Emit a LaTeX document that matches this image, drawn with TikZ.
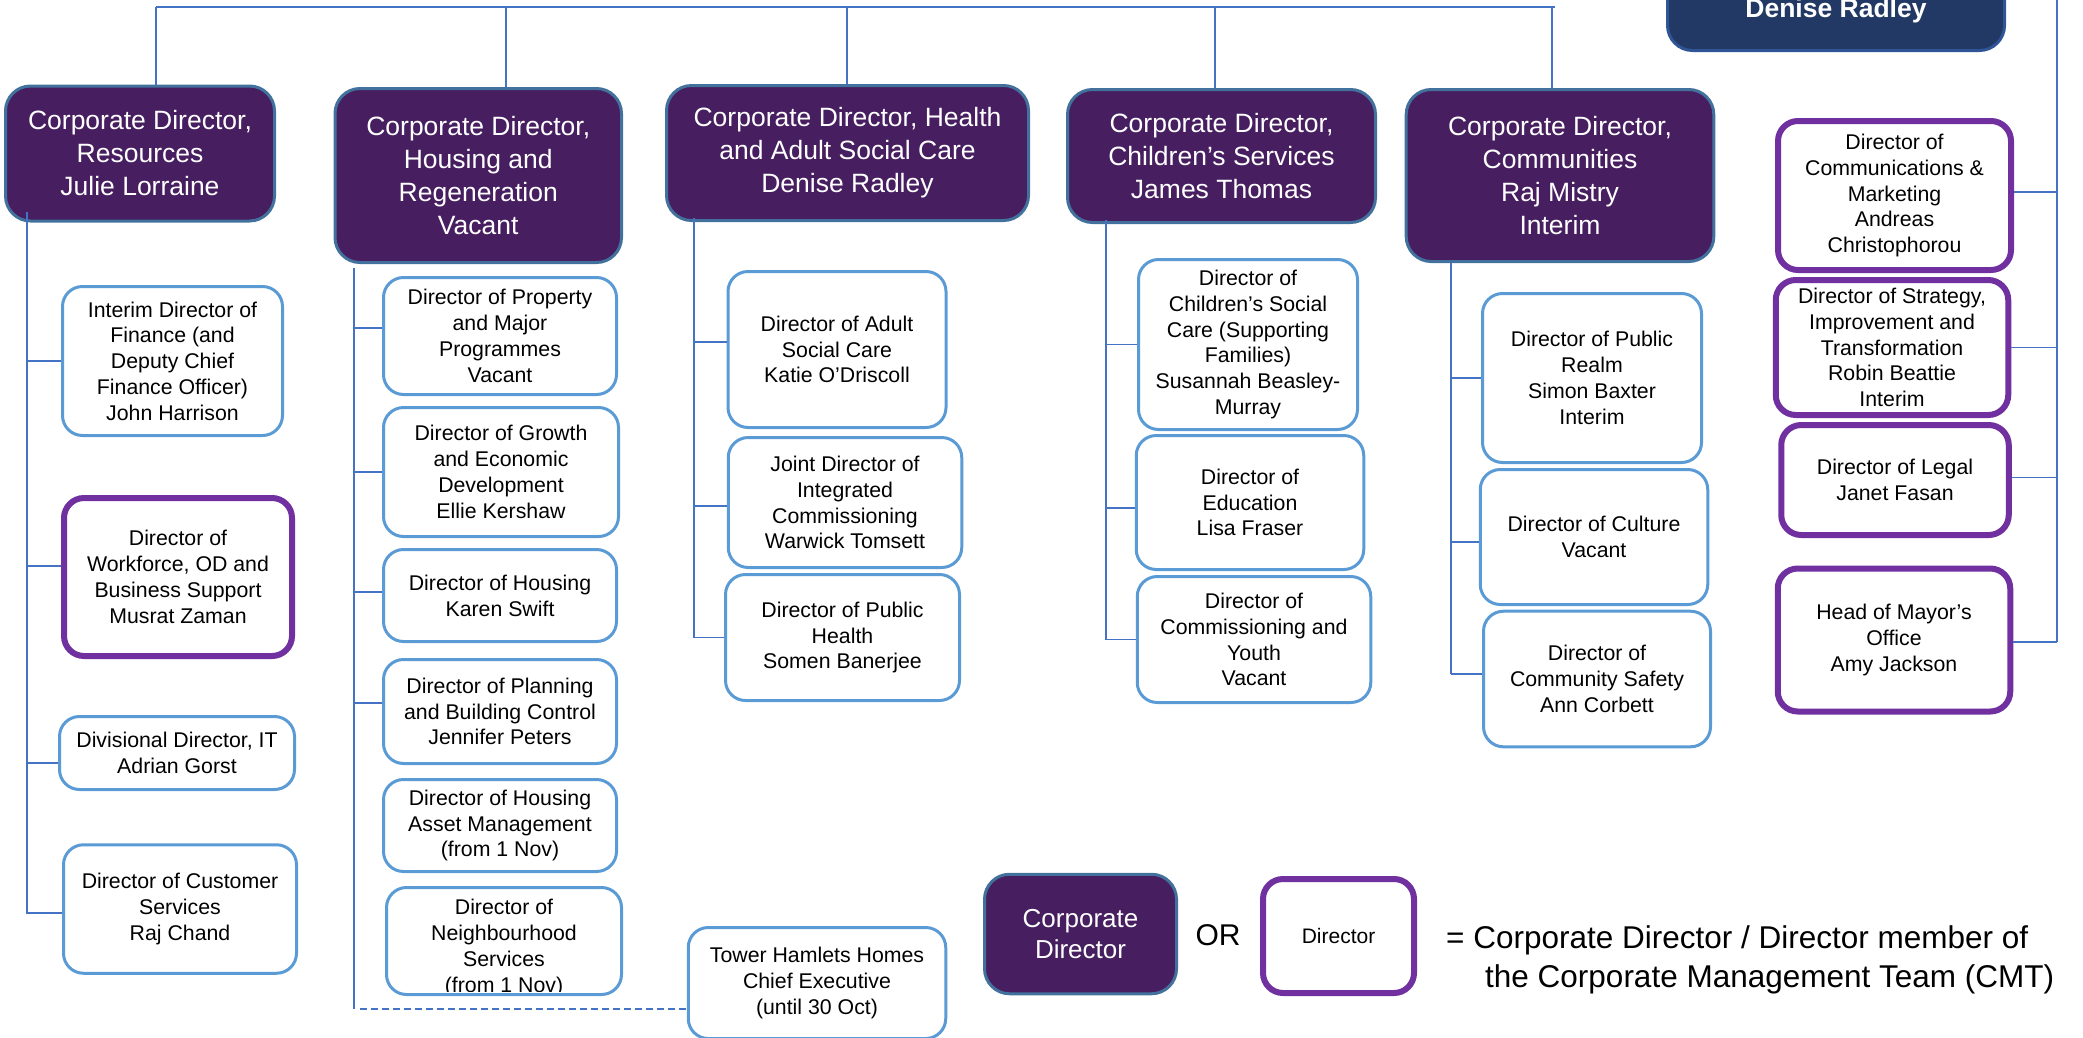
\documentclass[tikz,border=0pt]{standalone}
\usepackage{fontspec}
\setmainfont{Liberation Sans}
\definecolor{cdfill}{RGB}{71,30,96}
\definecolor{cdborder}{RGB}{65,113,156}
\definecolor{dborder}{RGB}{91,155,213}
\definecolor{cmtpurple}{RGB}{112,48,160}
\definecolor{linecol}{RGB}{68,114,196}
\definecolor{ceofill}{RGB}{33,57,100}
\definecolor{ceoborder}{RGB}{47,85,151}
\newcommand\dirfont{\fontsize{21.3}{25.8}\selectfont}
\newcommand\cdirfont{\fontsize{26.5}{33}\selectfont}
\tikzset{
  basebox/.style={rounded corners=20pt, align=center, inner sep=0pt},
  dbox/.style={basebox, draw=dborder, line width=3pt, fill=white, text=black, font=\dirfont},
  pbox/.style={basebox, draw=cmtpurple, line width=6pt, fill=white, text=black, font=\dirfont},
  cdbox/.style={basebox, rounded corners=25pt, draw=cdborder, line width=3pt, fill=cdfill, text=white, font=\cdirfont},
  conn/.style={draw=linecol, line width=1.5pt},
}
\begin{document}
\begin{tikzpicture}[x=1pt,y=-1pt]
\useasboundingbox (0,0) rectangle (2083,1037);
\clip (0,0) rectangle (2083,1037);

% CEO (cut off at top)
\node[basebox, rounded corners=25pt, draw=ceoborder, line width=3pt, fill=ceofill, minimum width=337pt, minimum height=109pt] (ceo) at (1836,-4) {};
\node[font=\fontsize{26.5}{32}\selectfont\bfseries, text=white, inner sep=0pt, anchor=base] (ceoname) at (1836,17) {Denise Radley};

% Corporate directors
\node[cdbox, minimum width=269pt, minimum height=135pt] (cdres) at (140,153.5) {Corporate Director,\\Resources\\Julie Lorraine};
\node[cdbox, minimum width=286.5pt, minimum height=174pt] (cdhous) at (478.25,175.5) {Corporate Director,\\Housing and\\Regeneration\\Vacant};
\node[cdbox, minimum width=362pt, minimum height=135pt] (cdhealth) at (847.5,153) {Corporate Director, Health\\and Adult Social Care\\Denise Radley};
\node[cdbox, minimum width=308pt, minimum height=133pt] (cdchild) at (1221.5,156) {Corporate Director,\\Children’s Services\\James Thomas};
\node[cdbox, minimum width=307.6pt, minimum height=172pt] (cdcomm) at (1560,175.5) {Corporate Director,\\Communities\\Raj Mistry\\Interim};

% Resources column
\node[dbox, minimum width=220pt, minimum height=149pt] (finance) at (172.5,361) {Interim Director of\\Finance (and\\Deputy Chief\\Finance Officer)\\John Harrison};
\node[pbox, minimum width=228pt, minimum height=158pt] (workforce) at (178,577) {Director of\\Workforce, OD and\\Business Support\\Musrat Zaman};
\node[dbox, minimum width=235pt, minimum height=73pt] (it) at (177,753) {Divisional Director, IT\\Adrian Gorst};
\node[dbox, minimum width=233pt, minimum height=128.5pt] (customer) at (180,909) {Director of Customer\\Services\\Raj Chand};

% Housing column
\node[dbox, minimum width=233pt, minimum height=117pt] (property) at (500,336) {Director of Property\\and Major\\Programmes\\Vacant};
\node[dbox, minimum width=235pt, minimum height=129pt] (growth) at (501,472) {Director of Growth\\and Economic\\Development\\Ellie Kershaw};
\node[dbox, minimum width=233pt, minimum height=92pt] (housing) at (500,595.5) {Director of Housing\\Karen Swift};
\node[dbox, minimum width=233pt, minimum height=104pt] (planning) at (500,711.5) {Director of Planning\\and Building Control\\Jennifer Peters};
\node[dbox, minimum width=233pt, minimum height=92pt] (asset) at (500,825.5) {Director of Housing\\Asset Management\\(from 1 Nov)};
\node[dbox, minimum width=235pt, minimum height=107pt] (neighbourhood) at (504,941) {};
\begin{scope}
\clip ([yshift=5pt]neighbourhood.south west) rectangle (neighbourhood.north east);
\node[font=\dirfont, align=center, inner sep=0pt] (nbtext) at (504,948) {Director of\\Neighbourhood\\Services\\(from 1 Nov)};
\end{scope}
\node[dbox, minimum width=257.5pt, minimum height=111pt] (tower) at (817,983) {Tower Hamlets Homes\\Chief Executive\\(until 30 Oct)};

% Health column
\node[dbox, minimum width=218pt, minimum height=156pt] (adult) at (837,349.5) {Director of Adult\\Social Care\\Katie O’Driscoll};
\node[dbox, minimum width=233.5pt, minimum height=130pt] (joint) at (845,502.5) {Joint Director of\\Integrated\\Commissioning\\Warwick Tomsett};
\node[dbox, minimum width=234pt, minimum height=126pt] (publichealth) at (842.5,637.5) {Director of Public\\Health\\Somen Banerjee};

% Children column
\node[dbox, minimum width=219pt, minimum height=170pt] (csc) at (1248,344.5) {Director of\\Children’s Social\\Care (Supporting\\Families)\\Susannah Beasley-\\Murray};
\node[dbox, minimum width=227.5pt, minimum height=134pt] (education) at (1250,502.5) {Director of\\Education\\Lisa Fraser};
\node[dbox, minimum width=233.5pt, minimum height=126pt] (commyouth) at (1254,639.5) {Director of\\Commissioning and\\Youth\\Vacant};

% Communities column
\node[dbox, minimum width=219pt, minimum height=169pt] (realm) at (1592,378) {Director of Public\\Realm\\Simon Baxter\\Interim};
\node[dbox, minimum width=227.5pt, minimum height=135pt] (culture) at (1594,537) {Director of Culture\\Vacant};
\node[dbox, minimum width=227pt, minimum height=135.6pt] (safety) at (1597,679) {Director of\\Community Safety\\Ann Corbett};

% Right column (CMT directors)
\node[pbox, minimum width=233pt, minimum height=149pt] (comms) at (1894.5,195.5) {Director of\\Communications \&\\Marketing\\Andreas\\Christophorou};
\node[pbox, minimum width=232.5pt, minimum height=135pt] (strategy) at (1892,347.5) {Director of Strategy,\\Improvement and\\Transformation\\Robin Beattie\\Interim};
\node[pbox, minimum width=227.5pt, minimum height=110pt] (legal) at (1895,480) {Director of Legal\\Janet Fasan};
\node[pbox, minimum width=232.5pt, minimum height=143pt] (mayor) at (1894,640) {Head of Mayor’s\\Office\\Amy Jackson};

% Legend
\node[cdbox, font=\fontsize{26}{31}\selectfont, minimum width=192pt, minimum height=119.5pt] (legcd) at (1080.5,934) {Corporate\\Director};
\node[font=\fontsize{30}{36}\selectfont, inner sep=0pt] (legor) at (1218,935) {OR};
\node[pbox, font=\fontsize{21}{25}\selectfont, minimum width=151pt, minimum height=114pt] (legdir) at (1338.5,936) {Director};
\node[font=\fontsize{31.5}{39}\selectfont, anchor=base west, inner sep=0pt] (legt1) at (1446,948) {= Corporate Director / Director member of};
\node[font=\fontsize{31.5}{39}\selectfont, anchor=base west, inner sep=0pt] (legt2) at (1485,987) {the Corporate Management Team (CMT)};

% Top line and drops
\coordinate (tl) at (156,7);
\coordinate (tr) at (1555,7);
\coordinate (dhous) at (506,7);
\coordinate (dhealth) at (847,7);
\coordinate (dchild) at (1215,7);
\coordinate (dcomm) at (1552,7);
\draw[conn] (tl) -- (tr);
\draw[conn] (tl) -- (tl |- cdres.north);
\draw[conn] (dhous) -- (dhous |- cdhous.north);
\draw[conn] (dhealth) -- (dhealth |- cdhealth.north);
\draw[conn] (dchild) -- (dchild |- cdchild.north);
\draw[conn] (dcomm) -- (dcomm |- cdcomm.north);

% Resources trunk
\coordinate (rtop) at (27,212);
\coordinate (rbot) at (27,914);
\draw[conn] (rtop) -- (rbot);
\draw[conn] (finance.west) -- (finance.west -| rtop);
\draw[conn] ([yshift=11pt]workforce.west) -- ([yshift=11pt]workforce.west -| rtop);
\draw[conn] ([yshift=-10pt]it.west) -- ([yshift=-10pt]it.west -| rtop);
\draw[conn] ([yshift=-4pt]customer.west) -- ([yshift=-4pt]customer.west -| rtop);

% Housing trunk
\coordinate (htop) at (354,268);
\coordinate (hbot) at (354,1009);
\draw[conn] (htop) -- (hbot);
\draw[conn] ([yshift=8pt]property.west) -- ([yshift=8pt]property.west -| htop);
\draw[conn] (growth.west) -- (growth.west -| htop);
\draw[conn] ([yshift=3.5pt]housing.west) -- ([yshift=3.5pt]housing.west -| htop);
\draw[conn] ([yshift=8.5pt]planning.west) -- ([yshift=8.5pt]planning.west -| htop);
\draw[conn, dash pattern=on 7pt off 4pt] ([xshift=6pt]hbot) -- (hbot -| tower.west);

% Health trunk
\coordinate (atop) at (694,218);
\coordinate (abot) at (694,638);
\draw[conn] (atop) -- (abot);
\draw[conn] ([yshift=7.5pt]adult.west) -- ([yshift=7.5pt]adult.west -| atop);
\draw[conn] ([yshift=-3.5pt]joint.west) -- ([yshift=-3.5pt]joint.west -| atop);
\draw[conn] (publichealth.west) -- (publichealth.west -| atop);

% Children trunk
\coordinate (ctop) at (1106,220);
\coordinate (cbot) at (1106,640);
\draw[conn] (ctop) -- (cbot);
\draw[conn] (csc.west) -- (csc.west -| ctop);
\draw[conn] ([yshift=-5.5pt]education.west) -- ([yshift=-5.5pt]education.west -| ctop);
\draw[conn] (commyouth.west) -- (commyouth.west -| ctop);

% Communities trunk
\coordinate (mtop) at (1451,263);
\coordinate (mbot) at (1451,674);
\draw[conn] (mtop) -- (mbot);
\draw[conn] (realm.west) -- (realm.west -| mtop);
\draw[conn] ([yshift=-5pt]culture.west) -- ([yshift=-5pt]culture.west -| mtop);
\draw[conn] ([yshift=5pt]safety.west) -- ([yshift=5pt]safety.west -| mtop);

% Right trunk
\coordinate (ttop) at (2057,-5);
\coordinate (tbot) at (2057,642);
\draw[conn] (ttop) -- (tbot);
\draw[conn] ([yshift=3.5pt]comms.east) -- ([yshift=3.5pt]comms.east -| ttop);
\draw[conn] (strategy.east) -- (strategy.east -| ttop);
\draw[conn] ([yshift=2.5pt]legal.east) -- ([yshift=2.5pt]legal.east -| ttop);
\draw[conn] ([yshift=-2pt]mayor.east) -- ([yshift=-2pt]mayor.east -| ttop);
\end{tikzpicture}
\end{document}
